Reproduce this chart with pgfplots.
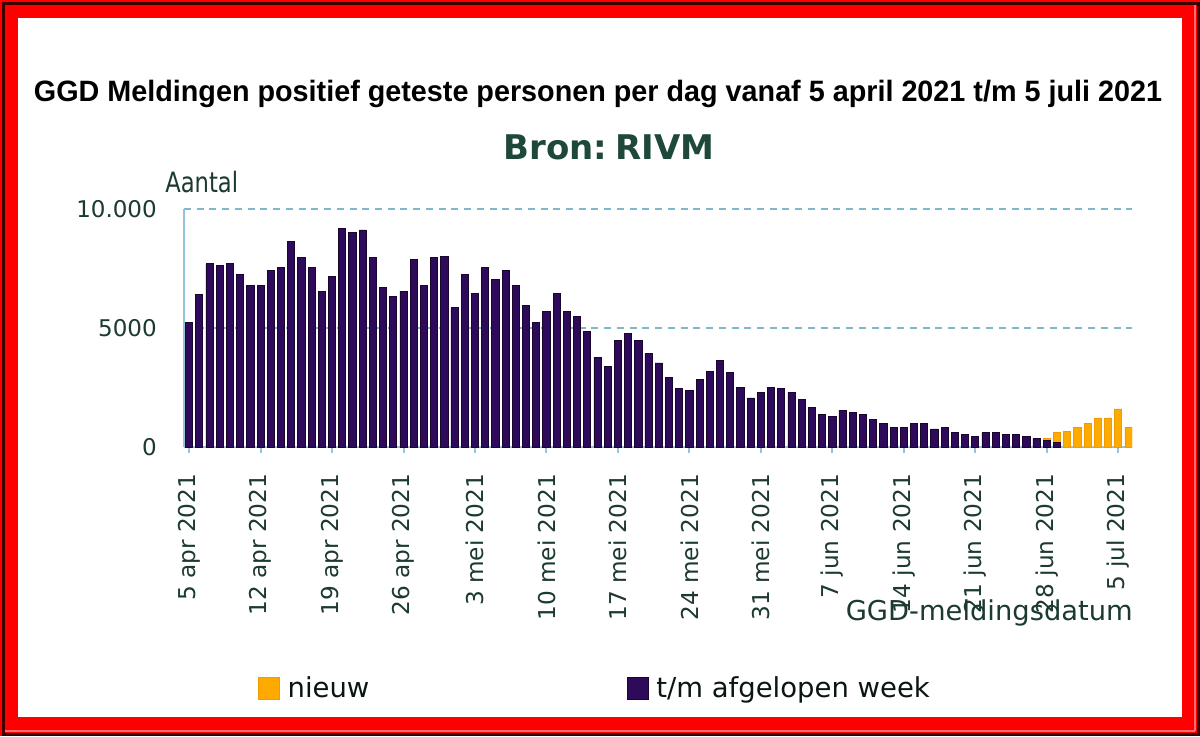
\documentclass[border=0pt]{standalone}
\usepackage{pgfplots}
\pgfplotsset{compat=1.18}
\usepackage{fontspec}
\setmainfont{DejaVu Sans}
\newfontfamily\titlefont{Liberation Sans}
\usepackage{graphicx}
\definecolor{framered}{RGB}{255,0,0}
\definecolor{framedark}{RGB}{60,0,0}
\definecolor{framepink}{RGB}{255,110,110}
\definecolor{purp}{RGB}{46,10,90}
\definecolor{purpdark}{RGB}{25,5,45}
\definecolor{orng}{RGB}{255,170,0}
\definecolor{orngdark}{RGB}{240,155,0}
\definecolor{gridblue}{RGB}{130,182,205}
\definecolor{axisblue}{RGB}{150,195,220}
\definecolor{ticktext}{RGB}{28,58,46}
\definecolor{brontext}{RGB}{30,72,58}
\definecolor{legtext}{RGB}{10,22,16}

\pgfplotstableread{
x y
1 5230
2 6400
3 7710
4 7630
5 7710
6 7240
7 6770
8 6770
9 7400
10 7560
11 8640
12 7950
13 7560
14 6550
15 7180
16 9190
17 9030
18 9120
19 7950
20 6700
21 6310
22 6550
23 7870
24 6770
25 7950
26 8020
27 5850
28 7240
29 6470
30 7560
31 7030
32 7400
33 6770
34 5930
35 5230
36 5690
37 6470
38 5690
39 5470
40 4850
41 3770
42 3380
43 4460
44 4770
45 4460
46 3930
47 3530
48 2920
49 2450
50 2370
51 2830
52 3160
53 3620
54 3140
55 2520
56 2060
57 2300
58 2520
59 2450
60 2300
61 1990
62 1680
63 1370
64 1290
65 1530
66 1460
67 1370
68 1140
69 980
70 830
71 830
72 980
73 980
74 760
75 830
76 600
77 520
78 450
79 600
80 600
81 520
82 520
83 450
84 360
85 290
86 210
}\weekdata

% total (afgelopen week + nieuw) for the days that have new reports
\pgfplotstableread{
x y
85 360
86 600
87 670
88 830
89 980
90 1220
91 1220
92 1600
93 830
}\newdata

\begin{document}
\begin{tikzpicture}
\useasboundingbox (0,0) rectangle (900pt,552pt);
% frame
\fill[framered] (0,0) rectangle (900pt,552pt);
\draw[framedark, line width=2.25pt] (2.6pt,1.1pt) rectangle (898.5pt,549pt);
\draw[framepink, line width=1.5pt] (895.9pt,3.4pt) -- (895.9pt,548pt);
\draw[framepink, line width=1.5pt] (3.5pt,3.4pt) -- (895.9pt,3.4pt);
\fill[white] (13.5pt,13.9pt) rectangle (886.5pt,538.5pt);

\begin{axis}[
  at={(138pt,216.75pt)}, anchor=south west,
  scale only axis,
  width=711pt, height=178.5pt,
  xmin=0.5, xmax=93.35,
  ymin=0, ymax=10000,
  scaled y ticks=false,
  ybar, bar width=0.7, bar shift=0pt,
  axis lines*=left,
  x axis line style={axisblue, line width=1.5pt},
  y axis line style={axisblue, line width=1.1pt},
  ytick={0,5000,10000},
  yticklabels={0,5000,10.000},
  ymajorgrids,
  grid style={gridblue, line width=1.4pt, dash pattern=on 5.25pt off 4.3pt},
  ytick style={draw=none},
  yticklabel style={font=\fontsize{17.25pt}{20pt}\selectfont, text=ticktext, anchor=east, inner sep=0pt, xshift=-20.25pt},
  xtick={1,8,15,22,29,36,43,50,57,64,71,78,85,92},
  xticklabels={5 apr 2021,12 apr 2021,19 apr 2021,26 apr 2021,3 mei 2021,10 mei 2021,17 mei 2021,24 mei 2021,31 mei 2021,7 jun 2021,14 jun 2021,21 jun 2021,28 jun 2021,5 jul 2021},
  xtick align=outside,
  major tick length=4.5pt,
  xtick style={axisblue, line width=1.5pt},
  xticklabel style={font=\fontsize{17.4pt}{20pt}\selectfont, text=ticktext, inner sep=0pt, yshift=-15.5pt, rotate=90, anchor=east},
  legend columns=2,
  legend style={draw=none, fill=none, inner sep=0pt, outer sep=0pt,
    at={(axis description cs:0.078,-1.015)}, anchor=west,
    font=\fontsize{20.6pt}{24pt}\selectfont\color{legtext},
    nodes={inner sep=0pt},
    /tikz/every odd column/.append style={column sep=6pt},
    /tikz/every even column/.append style={column sep=193pt}},
  legend image code/.code={\draw[#1, line width=0.5pt] (0pt,-8.5pt) rectangle (15.75pt,8pt);},
]
\addplot[fill=orng, draw=orngdark, line width=0.5pt] table[x=x,y=y] {\newdata};
\addlegendentry{nieuw}
\addplot[fill=purp, draw=purpdark, line width=0.6pt] table[x=x,y=y] {\weekdata};
\addlegendentry{t/m afgelopen week}
\end{axis}

% titles and labels
\node[anchor=base, inner sep=0pt] at (448.5pt,475.9pt)
  {\resizebox{846pt}{16pt}{\titlefont\bfseries GGD Meldingen positief geteste personen per dag vanaf 5 april 2021 t/m 5 juli 2021}};
\node[anchor=base, inner sep=0pt, text=brontext] at (456.75pt,432pt)
  {\fontsize{25.5pt}{30pt}\selectfont\bfseries Bron:\kern-0.12em\ RIVM};
\node[anchor=base west, inner sep=0pt, text=ticktext] at (123.75pt,407.6pt)
  {\scalebox{0.81}[1]{\fontsize{21pt}{25pt}\selectfont Aantal}};
\node[anchor=base east, inner sep=0pt, text=ticktext] at (849.75pt,86.6pt)
  {\fontsize{20.5pt}{24pt}\selectfont GGD-meldingsdatum};
\end{tikzpicture}
\end{document}
